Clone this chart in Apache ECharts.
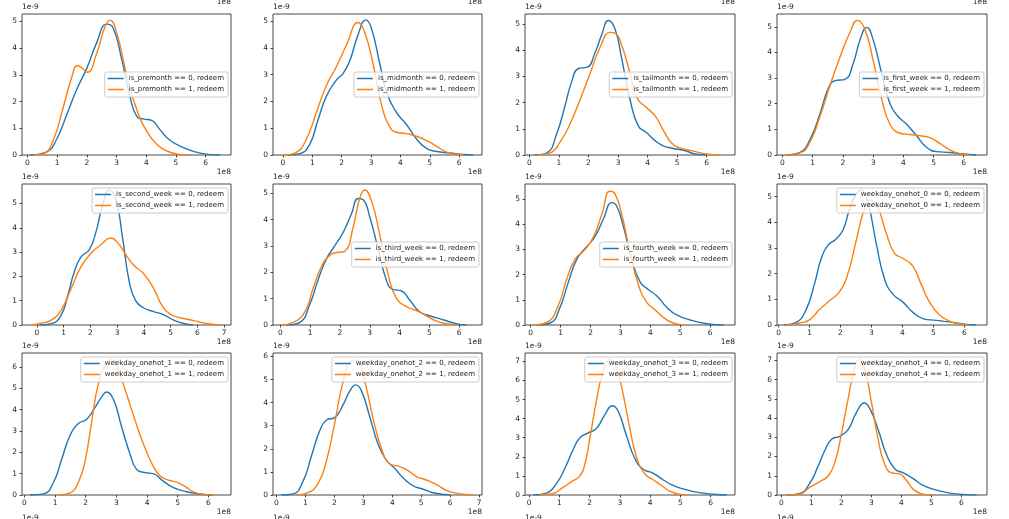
<!DOCTYPE html>
<html><head><meta charset="utf-8">
<script src="https://cdn.jsdelivr.net/npm/echarts@6/dist/echarts.min.js"></script>
<style>html,body{margin:0;padding:0;background:#fff}#c{width:1009px;height:519px}</style>
</head><body><div id="c"></div>
<script>
// ---------------- DATA (x in units of 1e8, density in units of 1e-9) ----------------
const features = ['is_premonth','is_midmonth','is_tailmonth','is_first_week',
  'is_second_week','is_third_week','is_fourth_week','weekday_onehot_0',
  'weekday_onehot_1','weekday_onehot_2','weekday_onehot_3','weekday_onehot_4'];

const xTicks6 = [0,1,2,3,4,5,6];
const xTicks7 = [0,1,2,3,4,5,6,7];
const yTicks5 = [0,1,2,3,4,5];
const yTicks6 = [0,1,2,3,4,5,6];
const yTicks7 = [0,1,2,3,4,5,6,7];
const xOffsetLabel = '1e8';
const yOffsetLabel = '1e-9';

const premonth0 = [[0.1,0],[0.65,0.12],[0.99,0.6],[1.32,1.5],[1.66,2.45],[2.02,3.3],[2.33,4.2],[2.67,4.9],[2.89,4.75],[3.17,3.6],[3.45,2.2],[3.68,1.45],[3.9,1.35],[4.18,1.3],[4.46,0.95],[4.8,0.55],[5.25,0.28],[5.81,0.07],[6.48,0]];
const premonth1 = [[0.2,0],[0.54,0.05],[0.87,0.55],[1.21,1.8],[1.49,2.9],[1.68,3.35],[1.85,3.25],[2.02,3.1],[2.33,3.8],[2.61,4.8],[2.78,5.05],[3.0,4.6],[3.34,3.0],[3.68,1.7],[4.01,0.9],[4.35,0.4],[4.69,0.15],[5.14,0.02],[5.4,0]];
const midmonth0 = [[0.17,0],[0.57,0.05],[0.91,0.4],[1.19,1.3],[1.48,2.2],[1.82,2.8],[2.05,3.05],[2.27,3.5],[2.56,4.5],[2.82,5.05],[3.01,4.75],[3.3,3.4],[3.52,2.4],[3.86,1.6],[4.2,1.15],[4.55,0.6],[4.89,0.25],[5.23,0.13],[5.68,0.08],[6.14,0.02],[6.48,0]];
const midmonth1 = [[0,0],[0.45,0.1],[0.8,0.6],[1.14,1.6],[1.48,2.6],[1.82,3.3],[2.16,4.1],[2.56,4.95],[2.78,4.6],[3.07,3.4],[3.35,1.9],[3.64,1.05],[3.86,0.85],[4.2,0.8],[4.55,0.7],[5.0,0.48],[5.34,0.25],[5.68,0.07],[6.14,0]];
const tailmonth0 = [[0.19,0],[0.59,0.08],[0.92,0.8],[1.21,1.9],[1.43,2.8],[1.66,3.3],[1.96,3.35],[2.22,3.9],[2.45,4.6],[2.67,5.13],[2.9,4.8],[3.12,3.7],[3.41,2.1],[3.69,1.1],[3.97,0.85],[4.25,0.55],[4.53,0.35],[4.87,0.25],[5.21,0.18],[5.66,0.03],[6.0,0]];
const tailmonth1 = [[0.25,0],[0.7,0.08],[1.04,0.5],[1.38,1.2],[1.71,2.1],[2.05,3.1],[2.39,4.1],[2.73,4.68],[2.9,4.65],[3.12,4.2],[3.41,3.1],[3.63,2.2],[3.97,1.8],[4.25,1.5],[4.53,0.95],[4.82,0.45],[5.1,0.27],[5.55,0.15],[6.0,0.04],[6.45,0]];
const firstWeek0 = [[0.14,0],[0.58,0.1],[0.91,0.6],[1.24,1.6],[1.52,2.6],[1.74,2.9],[2.07,2.95],[2.35,3.6],[2.57,4.5],[2.79,4.98],[3.0,4.5],[3.28,3.2],[3.56,2.0],[3.83,1.5],[4.11,1.2],[4.44,0.75],[4.77,0.3],[5.1,0.13],[5.54,0.1],[5.98,0.04],[6.42,0]];
const firstWeek1 = [[0.09,0],[0.58,0.08],[0.91,0.5],[1.24,1.5],[1.57,2.7],[1.9,3.8],[2.24,4.8],[2.48,5.25],[2.73,4.9],[3.0,3.7],[3.28,2.2],[3.56,1.2],[3.89,0.85],[4.22,0.8],[4.55,0.75],[4.88,0.68],[5.21,0.45],[5.54,0.2],[5.87,0.05],[6.2,0]];
const secondWeek0 = [[0.1,0],[0.53,0.05],[0.9,0.4],[1.15,1.2],[1.4,2.2],[1.65,2.8],[1.96,3.1],[2.2,3.8],[2.45,4.9],[2.7,5.55],[2.95,5.2],[3.2,3.6],[3.45,1.8],[3.69,1.0],[4.0,0.7],[4.37,0.55],[4.75,0.42],[5.12,0.2],[5.49,0.06],[5.86,0]];
const secondWeek1 = [[-0.21,0],[0.16,0.07],[0.53,0.2],[0.9,0.6],[1.28,1.5],[1.65,2.4],[2.02,2.95],[2.39,3.3],[2.76,3.58],[3.01,3.4],[3.32,2.9],[3.63,2.45],[4.0,2.1],[4.37,1.5],[4.68,0.8],[4.99,0.45],[5.37,0.3],[5.86,0.18],[6.36,0.06],[6.85,0]];
const thirdWeek0 = [[0.2,0],[0.65,0.1],[0.99,0.8],[1.26,1.7],[1.54,2.5],[1.82,3.0],[2.1,3.5],[2.38,4.2],[2.61,4.8],[2.78,4.75],[3.0,4.1],[3.28,2.9],[3.56,1.7],[3.78,1.35],[4.06,1.3],[4.34,0.95],[4.68,0.5],[5.01,0.35],[5.46,0.2],[5.91,0.05],[6.25,0]];
const thirdWeek1 = [[0.03,0],[0.43,0.1],[0.82,0.5],[1.1,1.4],[1.37,2.2],[1.66,2.65],[1.9,2.75],[2.16,2.8],[2.44,3.7],[2.66,4.8],[2.83,5.12],[3.06,4.7],[3.34,3.4],[3.62,1.9],[3.9,1.0],[4.23,0.7],[4.57,0.55],[4.9,0.35],[5.24,0.15],[5.57,0.05],[5.91,0]];
const fourthWeek0 = [[0.2,0],[0.65,0.08],[0.98,0.7],[1.26,1.7],[1.54,2.6],[1.87,3.1],[2.15,3.5],[2.43,4.2],[2.71,4.85],[2.88,4.7],[3.1,3.9],[3.38,2.6],[3.66,1.7],[3.94,1.4],[4.22,1.15],[4.55,0.7],[4.88,0.4],[5.33,0.2],[5.89,0.05],[6.45,0]];
const fourthWeek1 = [[0.09,0],[0.54,0.1],[0.93,0.8],[1.2,1.8],[1.48,2.6],[1.82,3.0],[2.1,3.5],[2.38,4.4],[2.65,5.3],[2.82,5.2],[3.04,4.4],[3.32,2.9],[3.6,1.6],[3.88,0.9],[4.16,0.6],[4.44,0.3],[4.72,0.1],[5.11,0]];
const weekday0_0 = [[0.19,0],[0.57,0.1],[0.89,0.6],[1.16,1.6],[1.38,2.6],[1.59,3.1],[1.86,3.35],[2.08,3.7],[2.29,4.5],[2.51,5.1],[2.67,5.25],[2.88,4.8],[3.15,3.2],[3.42,1.8],[3.69,1.2],[4.01,0.9],[4.33,0.5],[4.66,0.25],[5.09,0.18],[5.52,0.12],[5.95,0.04],[6.38,0]];
const weekday0_1 = [[0.25,0],[0.68,0.08],[1.0,0.2],[1.32,0.6],[1.65,0.95],[1.97,1.3],[2.24,2.0],[2.51,3.3],[2.77,4.5],[2.99,4.85],[3.2,4.6],[3.47,3.6],[3.74,2.8],[4.01,2.6],[4.33,2.3],[4.6,1.6],[4.87,0.9],[5.19,0.4],[5.52,0.15],[5.84,0.04],[6.16,0]];
const weekday1_0 = [[0.18,0],[0.62,0.05],[0.95,0.6],[1.22,1.7],[1.49,2.8],[1.76,3.35],[2.03,3.55],[2.3,4.1],[2.52,4.6],[2.68,4.83],[2.9,4.5],[3.17,3.2],[3.45,1.9],[3.66,1.2],[3.93,1.05],[4.2,1.0],[4.53,0.65],[4.86,0.35],[5.29,0.15],[5.73,0.05],[6.16,0]];
const weekday1_1 = [[1.11,0],[1.49,0.1],[1.76,0.6],[1.98,1.6],[2.2,3.5],[2.41,5.2],[2.68,6.2],[2.85,6.35],[3.07,5.8],[3.34,4.7],[3.61,3.5],[3.88,2.4],[4.15,1.5],[4.42,0.9],[4.7,0.7],[4.97,0.6],[5.24,0.4],[5.51,0.15],[5.84,0.03],[6.16,0]];
const weekday2_0 = [[0.17,0],[0.58,0.05],[0.92,0.6],[1.21,1.7],[1.5,2.8],[1.73,3.25],[2.01,3.35],[2.3,3.9],[2.53,4.5],[2.74,4.77],[2.94,4.5],[3.22,3.4],[3.51,2.2],[3.8,1.5],[4.09,1.15],[4.37,0.75],[4.72,0.4],[5.07,0.25],[5.41,0.1],[5.99,0]];
const weekday2_1 = [[0.69,0],[1.09,0.1],[1.44,0.5],[1.73,1.5],[2.01,3.1],[2.3,4.9],[2.59,5.8],[2.76,5.85],[3.05,4.9],[3.34,3.3],[3.63,2.0],[3.91,1.35],[4.2,1.25],[4.49,1.1],[4.84,0.8],[5.18,0.65],[5.53,0.45],[5.87,0.2],[6.22,0.08],[6.79,0]];
const weekday3_0 = [[0.13,0],[0.57,0.1],[0.9,0.6],[1.18,1.4],[1.46,2.4],[1.68,3.0],[1.95,3.25],[2.23,3.5],[2.5,4.2],[2.75,4.68],[2.94,4.4],[3.22,3.1],[3.5,1.9],[3.77,1.35],[4.1,1.15],[4.43,0.8],[4.76,0.5],[5.1,0.32],[5.54,0.15],[6.09,0.04],[6.53,0]];
const weekday3_1 = [[0.35,0],[0.79,0.08],[1.12,0.4],[1.4,0.7],[1.68,1.0],[1.84,1.6],[2.01,3.0],[2.23,5.0],[2.45,6.5],[2.67,7.1],[2.83,6.9],[3.05,5.7],[3.28,3.9],[3.55,2.0],[3.83,1.1],[4.1,0.8],[4.38,0.5],[4.65,0.2],[4.99,0.03],[5.2,0]];
const weekday4_0 = [[0.17,0],[0.61,0.08],[0.94,0.6],[1.22,1.5],[1.44,2.3],[1.67,2.9],[1.94,3.05],[2.22,3.4],[2.5,4.3],[2.76,4.78],[2.94,4.5],[3.22,3.4],[3.5,2.1],[3.78,1.35],[4.06,1.15],[4.39,0.85],[4.72,0.5],[5.17,0.25],[5.61,0.1],[6.06,0.03],[6.5,0]];
const weekday4_1 = [[0.17,0],[0.61,0.05],[0.94,0.4],[1.28,0.7],[1.56,1.0],[1.78,1.7],[2.0,3.2],[2.22,5.0],[2.44,6.6],[2.58,7.05],[2.78,6.5],[3.0,4.8],[3.22,2.9],[3.44,1.6],[3.67,1.15],[3.94,1.1],[4.17,0.75],[4.39,0.3],[4.67,0.06],[5.0,0]];

const seriesZero = [premonth0, midmonth0, tailmonth0, firstWeek0, secondWeek0, thirdWeek0, fourthWeek0, weekday0_0, weekday1_0, weekday2_0, weekday3_0, weekday4_0];
const seriesOne  = [premonth1, midmonth1, tailmonth1, firstWeek1, secondWeek1, thirdWeek1, fourthWeek1, weekday0_1, weekday1_1, weekday2_1, weekday3_1, weekday4_1];
const xTickSets = [xTicks6,xTicks6,xTicks6,xTicks6, xTicks7,xTicks6,xTicks6,xTicks6, xTicks6,xTicks7,xTicks6,xTicks6];
const yTickSets = [yTicks5,yTicks5,yTicks5,yTicks5, yTicks5,yTicks5,yTicks5,yTicks5, yTicks6,yTicks6,yTicks7,yTicks7];

// ---------------- LAYOUT ----------------
const W = 1009;
const colLeft = [22, 273, 525, 777];
const colWidth = [209, 209, 210, 210];
const rowTop = [14, 184, 353];
const rowHeight = [141, 141, 142];
const xLimits = [[-0.18,6.85],[-0.34,6.78],[-0.15,6.96],[-0.18,6.77],
                 [-0.56,7.26],[-0.25,6.77],[-0.19,6.83],[-0.05,6.73],
                 [-0.08,6.74],[-0.12,7.1],[-0.14,6.81],[-0.15,6.85]];
const yLimits = [5.28,5.27,5.38,5.5, 5.8,5.35,5.59,5.49, 6.66,6.15,7.44,7.38];
const legendLoc = ['center','center','center','center','upper','center','center','upper','upper','upper','upper','upper'];

const BLUE = '#1f77b4', ORANGE = '#ff7f0e';
const FONT = 'DejaVu Sans';
const TXT = '#1e1e1e';

const grid = [], xAxis = [], yAxis = [], series = [], legend = [], graphic = [];
features.forEach((f, i) => {
  const r = Math.floor(i / 4), c = i % 4;
  const left = colLeft[c], top = rowTop[r], w = colWidth[c], h = rowHeight[r];
  grid.push({left, top, width: w, height: h, show: true, borderColor: '#1a1a1a', borderWidth: 0.8,
             backgroundColor: 'transparent', containLabel: false, outerBoundsMode: 'none'});
  xAxis.push({type: 'value', gridIndex: i, min: xLimits[i][0], max: xLimits[i][1],
    axisLine: {show: false, onZero: false},
    axisTick: {show: true, length: 2.5, lineStyle: {color: '#1a1a1a', width: 0.8}, customValues: xTickSets[i]},
    axisLabel: {customValues: xTickSets[i], margin: 4, fontSize: 7.5, color: TXT, fontFamily: FONT},
    splitLine: {show: false}});
  yAxis.push({type: 'value', gridIndex: i, min: 0, max: yLimits[i],
    axisLine: {show: false, onZero: false},
    axisTick: {show: true, length: 2.5, lineStyle: {color: '#1a1a1a', width: 0.8}, customValues: yTickSets[i]},
    axisLabel: {customValues: yTickSets[i], margin: 5, fontSize: 7.5, color: TXT, fontFamily: FONT},
    splitLine: {show: false},
    name: yOffsetLabel, nameLocation: 'end', nameGap: 3,
    nameTextStyle: {align: 'left', verticalAlign: 'bottom', fontSize: 7.5, color: TXT, fontFamily: FONT}});
  const n0 = f + ' == 0, redeem', n1 = f + ' == 1, redeem';
  [[n0, seriesZero[i], BLUE], [n1, seriesOne[i], ORANGE]].forEach(([name, data, col]) => {
    series.push({type: 'line', name, xAxisIndex: i, yAxisIndex: i, data, color: col,
      showSymbol: false, symbol: 'none', smooth: 0.5,
      lineStyle: {width: 1.4, color: col}, animation: false});
  });
  const lh = 25;
  legend.push({data: [n0, n1], orient: 'vertical', selectedMode: false,
    right: W - (left + w) + 3,
    top: legendLoc[i] === 'upper' ? top + 4 : Math.round(top + h / 2 - lh / 2),
    icon: 'rect', itemWidth: 16, itemHeight: 1.5, itemGap: 2,
    padding: [2, 4, 3, 3], backgroundColor: 'rgba(255,255,255,0.8)',
    borderColor: '#cccccc', borderWidth: 1, borderRadius: 2,
    textStyle: {fontSize: 7, lineHeight: 9, color: TXT, fontFamily: FONT}});
  graphic.push({type: 'text', right: W - (left + w), top: top + h + 13,
    style: {text: xOffsetLabel, fontSize: 7.5, fill: TXT, fontFamily: FONT}});
  if (r === 0) graphic.push({type: 'text', right: W - (left + w), top: -2,
    style: {text: xOffsetLabel, fontSize: 7.5, fill: TXT, fontFamily: FONT}});
  if (r === 2) graphic.push({type: 'text', left: left, top: 514,
    style: {text: yOffsetLabel, fontSize: 7.5, fill: TXT, fontFamily: FONT}});
});

const chart = echarts.init(document.getElementById('c'), null, {renderer: 'canvas'});
chart.setOption({animation: false, backgroundColor: '#fff', grid, xAxis, yAxis, series, legend, graphic});
</script></body></html>
